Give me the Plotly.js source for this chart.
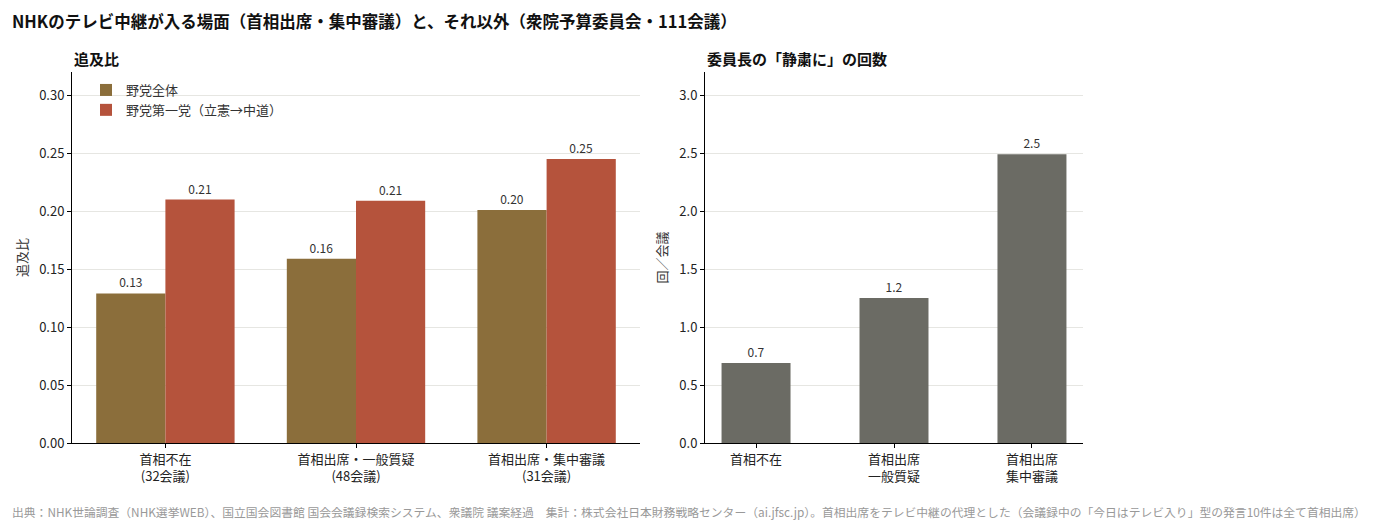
<!DOCTYPE html>
<html>
<head>
<meta charset="utf-8">
<script src="https://cdn.plot.ly/plotly-3.0.1.min.js"></script>
<style>
  html, body { margin: 0; padding: 0; background: #fff; }
  #chart { width: 1384px; height: 527px; }
</style>
</head>
<body>
<div id="chart"></div>
<script>
// 追及比 (left panel)
const scenes = ["首相不在<br>(32会議)", "首相出席・一般質疑<br>(48会議)", "首相出席・集中審議<br>(31会議)"];
const oppositionAll = [0.129, 0.159, 0.201];
const oppositionFirst = [0.210, 0.209, 0.245];
const oppositionAllText = ["0.13", "0.16", "0.20"];
const oppositionFirstText = ["0.21", "0.21", "0.25"];

// 委員長の「静粛に」の回数 (right panel)
const scenesShort = ["首相不在", "首相出席<br>一般質疑", "首相出席<br>集中審議"];
const quietCalls = [0.69, 1.25, 2.49];
const quietText = ["0.7", "1.2", "2.5"];

const FONT = "'Noto Sans CJK JP', 'Noto Sans', sans-serif";
const idx = [0, 1, 2];
const barW = 0.363;
const labelFont = { size: 12, color: "#333" };

const traces = [
  {
    type: "bar", name: "野党全体", x: idx, y: oppositionAll,
    width: barW, offset: -barW,
    marker: { color: "#8b6e3b" },
    text: oppositionAllText, textposition: "outside",
    textfont: labelFont, cliponaxis: false,
    xaxis: "x", yaxis: "y",
  },
  {
    type: "bar", name: "野党第一党（立憲→中道）", x: idx, y: oppositionFirst,
    width: barW, offset: 0,
    marker: { color: "#b5533c" },
    text: oppositionFirstText, textposition: "outside",
    textfont: labelFont, cliponaxis: false,
    xaxis: "x", yaxis: "y",
  },
  {
    type: "bar", name: "静粛に", x: idx, y: quietCalls,
    width: 0.5, offset: -0.25,
    marker: { color: "#6b6b64" },
    text: quietText, textposition: "outside",
    textfont: labelFont, cliponaxis: false,
    showlegend: false,
    xaxis: "x2", yaxis: "y2",
  },
];

const yDom = [1 - 443 / 527, 1 - 72 / 527];
const axisCommon = {
  showline: true, linecolor: "#000", linewidth: 1,
  ticks: "outside", ticklen: 4, tickcolor: "#000",
  tickfont: { size: 13, color: "#222" },
  zeroline: false,
};

const layout = {
  width: 1384, height: 527,
  margin: { l: 0, r: 0, t: 0, b: 0 },
  paper_bgcolor: "#fff", plot_bgcolor: "#fff",
  font: { family: FONT, color: "#222" },
  barmode: "overlay",
  showlegend: true,
  legend: {
    x: 86 / 1384, y: 1 - 75 / 527, xanchor: "left", yanchor: "top",
    font: { size: 13, color: "#333" }, bgcolor: "rgba(0,0,0,0)",
    tracegroupgap: 0,
  },
  xaxis: Object.assign({}, axisCommon, {
    domain: [72 / 1384, 640 / 1384], range: [-0.49, 2.49],
    tickvals: idx, ticktext: scenes, showgrid: false,
  }),
  yaxis: Object.assign({}, axisCommon, {
    domain: yDom, range: [0, 0.32],
    tickvals: [0, 0.05, 0.1, 0.15, 0.2, 0.25, 0.3], tickformat: ".2f",
    showgrid: true, gridcolor: "#e6e6e2", gridwidth: 1,
    title: { text: "追及比", font: { size: 13, color: "#333" }, standoff: 8 },
  }),
  xaxis2: Object.assign({}, axisCommon, {
    domain: [705 / 1384, 1083 / 1384], range: [-0.37, 2.37], anchor: "y2",
    tickvals: idx, ticktext: scenesShort, showgrid: false,
  }),
  yaxis2: Object.assign({}, axisCommon, {
    domain: yDom, range: [0, 3.2], anchor: "x2",
    tickvals: [0, 0.5, 1, 1.5, 2, 2.5, 3], tickformat: ".1f",
    showgrid: true, gridcolor: "#e6e6e2", gridwidth: 1,
    title: { text: "回／会議", font: { size: 13, color: "#333" }, standoff: 8 },
  }),
  annotations: [
    {
      text: "<b>NHKのテレビ中継が入る場面（首相出席・集中審議）と、それ以外（衆院予算委員会・111会議）</b>",
      xref: "paper", yref: "paper", x: 10 / 1384, y: 1 - 7 / 527,
      xanchor: "left", yanchor: "top", showarrow: false,
      font: { size: 16.5, color: "#111" },
    },
    {
      text: "<b>追及比</b>",
      xref: "paper", yref: "paper", x: 72 / 1384, y: 1 - 46 / 527,
      xanchor: "left", yanchor: "top", showarrow: false,
      font: { size: 15, color: "#111" },
    },
    {
      text: "<b>委員長の「静粛に」の回数</b>",
      xref: "paper", yref: "paper", x: 705 / 1384, y: 1 - 46 / 527,
      xanchor: "left", yanchor: "top", showarrow: false,
      font: { size: 15, color: "#111" },
    },
    {
      text: "出典：NHK世論調査（NHK選挙WEB）、国立国会図書館 国会会議録検索システム、衆議院 議案経過　集計：株式会社日本財務戦略センター（ai.jfsc.jp）。首相出席をテレビ中継の代理とした（会議録中の「今日はテレビ入り」型の発言10件は全て首相出席）",
      xref: "paper", yref: "paper", x: 10 / 1384, y: 1 - 501 / 527,
      xanchor: "left", yanchor: "top", showarrow: false,
      font: { size: 11.8, color: "#999" },
    },
  ],
};

Plotly.newPlot("chart", traces, layout, { displayModeBar: false, staticPlot: true });
</script>
</body>
</html>
